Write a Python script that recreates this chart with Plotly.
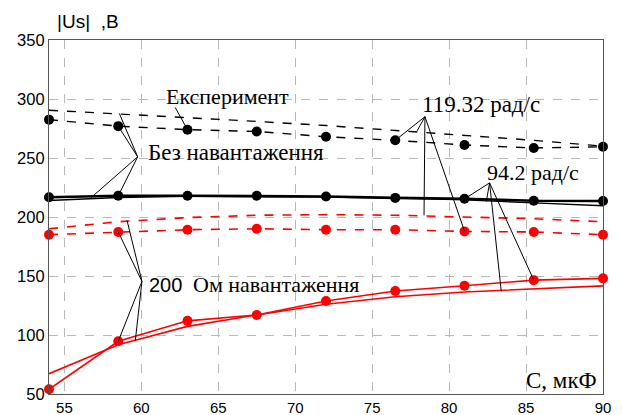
import plotly.graph_objects as go

C = [54, 58.5, 63, 67.5, 72, 76.5, 81, 85.5, 90]

# No load, 119.32 rad/s
noload_119_calc = [290.5, 287.5, 284.5, 281, 277.5, 273.5, 269.5, 265, 260]
noload_119_exp = [282.5, 277, 274, 272.5, 268, 265, 261, 258.5, 259.5]
# No load, 94.2 rad/s
noload_94_calc = [214, 216.5, 217.5, 217.5, 217, 216, 214.5, 212, 209.5]
noload_94_exp = [216.7, 218, 218, 218, 217.4, 216.2, 215.5, 213.8, 213.6]
# 200 Ohm load, 119.32 rad/s
load_119_calc = [190, 196, 199.5, 201.5, 202, 201.5, 200, 198.5, 196]
load_119_exp = [185, 187.3, 189.2, 190, 189.2, 189.2, 187.8, 187.3, 185]
# 200 Ohm load, 94.2 rad/s
load_94_calc = [67.2, 91.8, 107.3, 117, 126, 132.4, 136.5, 139.3, 141.6]
load_94_exp = [54, 94.7, 112, 117, 128.8, 137.3, 141.8, 146.5, 148]

x_ticks = [55, 60, 65, 70, 75, 80, 85, 90]
y_ticks = [50, 100, 150, 200, 250, 300, 350]

# leader lines (label vertex -> curve points), data coordinates
leaders = [
    ((62.2, 292.8), (63, 274)),
    ((59.76, 251), (58.57, 287.8)),
    ((59.76, 251), (58.5, 277)),
    ((59.76, 251), (56.7, 216)),
    ((59.76, 251), (58.5, 218)),
    ((78.43, 285), (76.5, 265)),
    ((78.43, 285), (77.92, 272.9)),
    ((78.43, 285), (78.37, 201.4)),
    ((78.43, 285), (81, 188)),
    ((82.63, 228.9), (81, 215.3)),
    ((82.63, 228.9), (82.42, 213.2)),
    ((82.63, 228.9), (83.39, 137)),
    ((82.63, 228.9), (85.5, 146.5)),
    ((60.04, 145.4), (59.07, 197.2)),
    ((60.04, 145.4), (58.5, 187.3)),
    ((60.04, 145.4), (58.5, 94.7)),
    ((60.04, 145.4), (59.61, 95.4)),
]

fig = go.Figure()

def add(y, color, dash, width, markers):
    fig.add_trace(go.Scatter(
        x=C, y=y, mode="lines+markers" if markers else "lines",
        line=dict(color=color, dash=dash, width=width),
        marker=dict(color=color, size=10),
        cliponaxis=False, showlegend=False))

add(noload_119_calc, "black", "dash", 1.4, False)
add(noload_119_exp, "black", "dash", 1.4, True)
add(noload_94_calc, "black", "solid", 1.4, False)
add(noload_94_exp, "black", "solid", 2.6, True)
add(load_119_calc, "red", "dash", 1.6, False)
add(load_119_exp, "red", "dash", 1.6, True)
add(load_94_calc, "red", "solid", 1.6, False)
add(load_94_exp, "red", "solid", 1.6, True)

for (x0, y0), (x1, y1) in leaders:
    fig.add_shape(type="line", x0=x0, y0=y0, x1=x1, y1=y1, xref="x", yref="y",
                  line=dict(color="black", width=1))

serif = "Liberation Serif"
sans = "Liberation Sans"
ann = [
    dict(x=65.6, y=302.3, text="Експеримент", xanchor="center", font=dict(family=serif, size=22)),
    dict(x=60.3, y=254.7, text="Без навантаження", xanchor="left", font=dict(family=serif, size=23)),
    dict(x=78.1, y=295.3, text="119.32 рад/с", xanchor="left", font=dict(family=serif, size=23)),
    dict(x=82.3, y=237.9, text="94.2 рад/с", xanchor="left", font=dict(family=serif, size=22)),
    dict(x=60.37, y=142.5, text="200", xanchor="left", font=dict(family=sans, size=20)),
    dict(x=63.2, y=142.5, text="Ом навантаження", xanchor="left", font=dict(family=serif, size=22)),
    dict(x=89.75, y=61.5, text="C, мкФ", xanchor="right", font=dict(family=serif, size=23)),
]
for a in ann:
    fig.add_annotation(xref="x", yref="y", showarrow=False, yanchor="middle",
                       font_color="black", **a)

fig.add_annotation(xref="paper", yref="paper", x=(55 - 49) / 554, y=1 + (40 - 21.7) / 354,
                   text="|Us|&nbsp; ,B", showarrow=False, xanchor="left", yanchor="middle",
                   font=dict(family=sans, size=19, color="black"))

axis_common = dict(showgrid=True, gridcolor="#b8b8b8", griddash="dash", gridwidth=1,
                   showline=True, linecolor="#555555", linewidth=1.2, mirror=True,
                   ticks="", zeroline=False)

fig.update_layout(
    width=614, height=407,
    margin=dict(l=41, r=19, t=32, b=21, autoexpand=False),
    paper_bgcolor="white", plot_bgcolor="white",
    xaxis=dict(range=[54, 90], tickvals=x_ticks,
               tickfont=dict(family=sans, size=15, color="black"), **axis_common),
    yaxis=dict(range=[50, 350], tickvals=y_ticks,
               tickfont=dict(family=sans, size=16.5, color="black"), **axis_common),
)

fig.write_html("out.html")
